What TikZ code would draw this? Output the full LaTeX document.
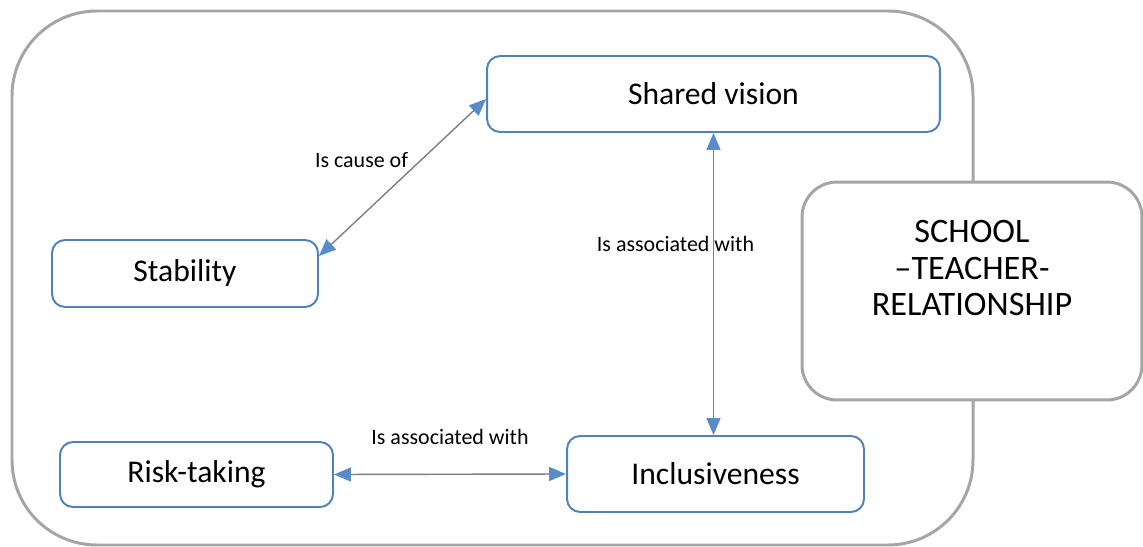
\documentclass[tikz,border=0pt]{standalone}
\usepackage{fontspec}
\setmainfont{Carlito}
\usetikzlibrary{arrows.meta}
\usetikzlibrary{calc}
\definecolor{blue1}{RGB}{79, 129, 189}
\definecolor{blue2}{RGB}{88, 140, 200}
\definecolor{grey1}{RGB}{165, 165, 165}
\definecolor{grey2}{RGB}{125, 125, 135}

\begin{document}
\begin{tikzpicture}[x=0.02cm, y=-0.02cm, line width=1.1pt,
  box/.style={draw=blue1, fill=white, rounded corners=0.26cm, font=\fontsize{18}{22}\selectfont},
  lbl/.style={text=black, font=\fontsize{12.5}{15}\selectfont},
  twoway/.style={grey2, line width=0.8pt,
    {Triangle[length=0.34cm, width=0.28cm, fill=blue2, color=blue2]}-{Triangle[length=0.34cm, width=0.28cm, fill=blue2, color=blue2]}}]
  \useasboundingbox (0,0) rectangle (1143,547);
  % outer frame
  \draw[grey1, line width=1.7pt, rounded corners=1.7cm] (12,11) rectangle (973,545);

  \node[box, minimum width=9.06cm, minimum height=1.52cm] (shv) at (713.5,94) {Shared vision};
  \node[box, minimum width=5.32cm, minimum height=1.34cm] (stab) at (185,273.5) {Stability};
  \node[box, minimum width=5.46cm, minimum height=1.30cm] (risk) at (196.5,474.5) {Risk-taking};
  \node[box, minimum width=5.94cm, minimum height=1.52cm] (incl) at (715.5,474) {Inclusiveness};

  \node[draw=grey1, fill=white, line width=1.7pt, rounded corners=0.7cm,
    minimum width=6.8cm, minimum height=4.36cm] (school) at (972,291) {};
  \node[align=center, font=\fontsize{19.5}{21}\selectfont] at ([yshift=0.46cm]school.center)
    {SCHOOL\\--TEACHER-\\RELATIONSHIP};

  \draw[twoway] ([yshift=0.35cm]stab.east) -- node[lbl, xshift=-0.82cm, yshift=0.35cm] {Is cause of} ([yshift=-0.1cm]shv.west);
  \draw[twoway] (shv.south) -- node[lbl, xshift=-0.76cm, yshift=0.8cm] {Is associated with} (shv.south |- incl.north);
  \draw[twoway] (risk.east) -- node[lbl, yshift=0.74cm] {Is associated with} (incl.west);
\end{tikzpicture}
\end{document}
